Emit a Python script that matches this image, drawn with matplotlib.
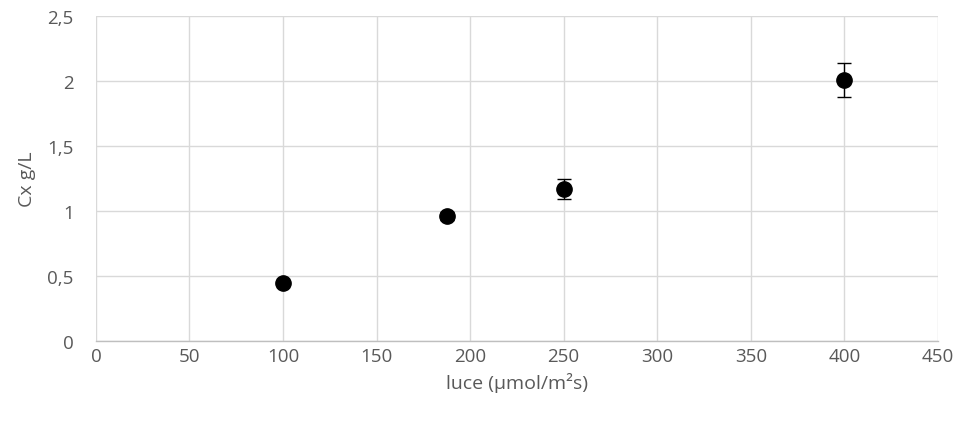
import matplotlib
matplotlib.use('Agg')
import matplotlib.pyplot as plt
from matplotlib.ticker import FuncFormatter

# data
luce = [100, 187.5, 250, 400]
cx = [0.45, 0.96, 1.17, 2.01]
cx_err = [0.0, 0.03, 0.08, 0.13]

x_ticks = [0, 50, 100, 150, 200, 250, 300, 350, 400, 450]
y_ticks = [0, 0.5, 1, 1.5, 2, 2.5]

plt.rcParams['font.family'] = ['Open Sans', 'DejaVu Sans']
text_color = '#595959'
grid_color = '#d9d9d9'

fig = plt.figure(figsize=(9.59, 4.27), dpi=100)
ax = fig.add_axes([0.100, 0.199, 0.878, 0.761])

ax.errorbar(luce, cx, yerr=cx_err, fmt='o', color='black',
            markersize=11, elinewidth=1, capsize=5, capthick=1, zorder=3)

ax.set_xlim(0, 450)
ax.set_ylim(0, 2.5)
ax.set_xticks(x_ticks)
ax.set_yticks(y_ticks)
ax.yaxis.set_major_formatter(FuncFormatter(lambda v, p: f'{v:g}'.replace('.', ',')))

ax.grid(True, color=grid_color, linewidth=1)
ax.set_axisbelow(True)
for side in ['top', 'right', 'left']:
    ax.spines[side].set_visible(False)
ax.spines['bottom'].set_color('#bfbfbf')
ax.spines['bottom'].set_linewidth(1)

ax.tick_params(axis='both', length=0, labelsize=13.5, labelcolor=text_color)
ax.tick_params(axis='y', pad=16)
ax.tick_params(axis='x', pad=4)

ax.set_xlabel('luce (µmol/m²s)', fontsize=14, color=text_color, labelpad=5)
ax.set_ylabel('Cx g/L', fontsize=14, color=text_color, labelpad=8)

plt.savefig('out.png', dpi=100)
